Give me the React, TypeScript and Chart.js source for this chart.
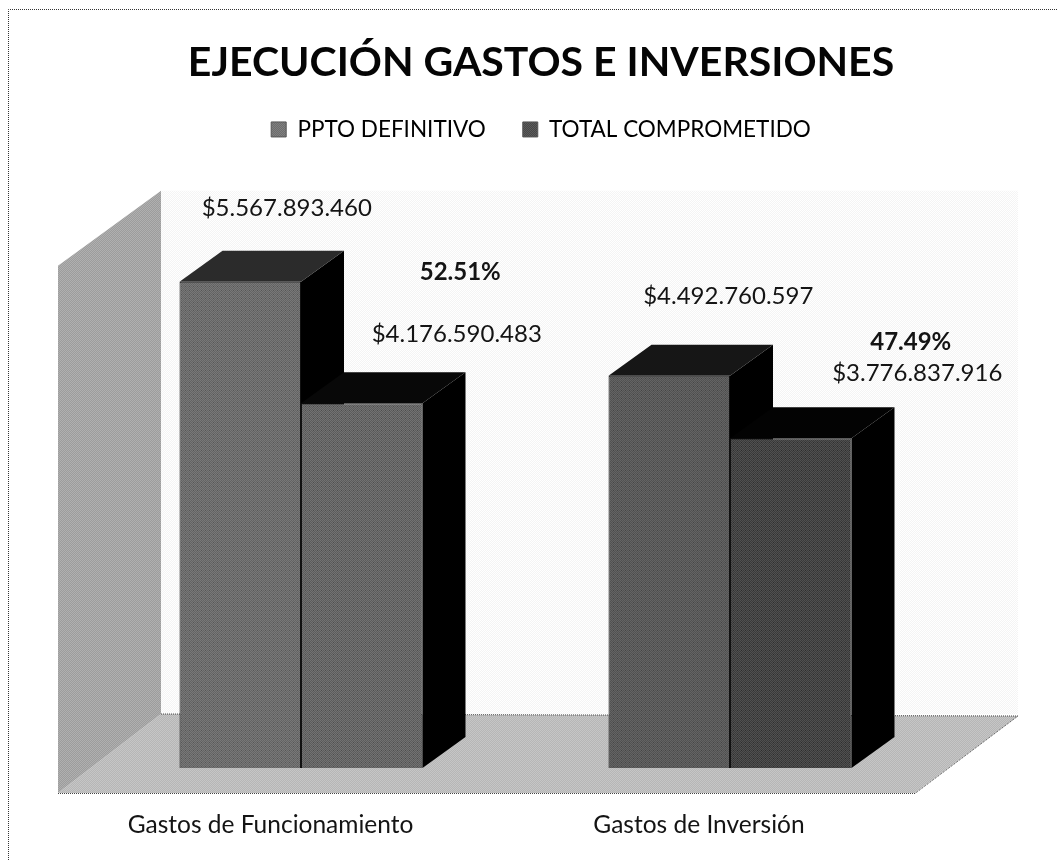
import React, { useEffect, useRef } from "react";
import { Chart, registerables } from "chart.js";

Chart.register(...registerables);

const titleText = "EJECUCIÓN GASTOS E INVERSIONES";
const categories = ["Gastos de Funcionamiento", "Gastos de Inversión"];
const seriesNames = ["PPTO DEFINITIVO", "TOTAL COMPROMETIDO"];
const pptoDefinitivo = [5567893460, 4492760597];
const totalComprometido = [4176590483, 3776837916];
const shareLabels = ["52.51%", "47.49%"];

const FONT = "Lato, 'Open Sans', sans-serif";
const INK = "#141414";
const DEPTH_X = 43;
const DEPTH_Y = 31;
const VALUE_MAX = 7.07e9;
const WALL_VALUE = 6.61e9;

const fmt = (v: number) => "$" + String(v).replace(/\B(?=(\d{3})+(?!\d))/g, ".");

function dither(a: string, b: string, spot?: string) {
  const c = document.createElement("canvas");
  c.width = 4;
  c.height = 4;
  const g = c.getContext("2d")!;
  for (let y = 0; y < 4; y++) {
    for (let x = 0; x < 4; x++) {
      g.fillStyle = (x + y) % 2 === 0 ? a : b;
      g.fillRect(x, y, 1, 1);
    }
  }
  if (spot) {
    g.fillStyle = spot;
    g.fillRect(1, 2, 1, 1);
  }
  return g.createPattern(c, "repeat")!;
}

function poly(ctx: CanvasRenderingContext2D, pts: number[][], fill: any) {
  ctx.beginPath();
  pts.forEach((p, i) => (i ? ctx.lineTo(p[0], p[1]) : ctx.moveTo(p[0], p[1])));
  ctx.closePath();
  ctx.fillStyle = fill;
  ctx.fill();
}

const scene = {
  id: "scene",
  beforeDatasetsDraw(chart: any) {
    const { ctx, scales } = chart;
    const x0 = scales.x.left;
    const base = scales.y.getPixelForValue(0);
    const top = scales.y.getPixelForValue(WALL_VALUE);
    const wl = x0 + 74.5;
    const wr = x0 + 931.5;
    const backY = base - 54;
    const frontY = base + 25;
    const fl = x0 - 28.5;
    const fr = x0 + 828.5;
    ctx.save();
    // page frame
    ctx.strokeStyle = "#333333";
    ctx.lineWidth = 1;
    ctx.setLineDash([1, 1]);
    ctx.beginPath();
    ctx.moveTo(8.5, 860);
    ctx.lineTo(8.5, 9.5);
    ctx.lineTo(1058, 9.5);
    ctx.stroke();
    ctx.setLineDash([]);
    // back wall, floor, left wall
    poly(ctx, [[wl, top], [wr, top], [wr, backY], [wl, backY]], dither("#ffffff", "#f4f4f4"));
    poly(ctx, [[fl, frontY], [wl, backY], [wr, backY + 2], [fr, frontY]], dither("#c6c6c6", "#b6b6b6"));
    poly(ctx, [[fl, top + 75], [wl, top], [wl, backY], [fl, frontY]], dither("#b0b0b0", "#9c9c9c"));
    ctx.strokeStyle = "#444444";
    ctx.setLineDash([1, 1]);
    ctx.beginPath();
    ctx.moveTo(fl, frontY + 0.5);
    ctx.lineTo(fr, frontY + 0.5);
    ctx.lineTo(wr, backY + 2);
    ctx.moveTo(wl, backY);
    ctx.lineTo(wr, backY + 2);
    ctx.stroke();
    ctx.setLineDash([]);
    // depth faces of every bar
    const topFaces = [["#2b2b2b", "#161616"], ["#080808", "#030303"]];
    chart.data.datasets.forEach((_: any, d: number) => {
      chart.getDatasetMeta(d).data.forEach((bar: any, i: number) => {
        const l = bar.x - bar.width / 2;
        const r = bar.x + bar.width / 2;
        poly(ctx, [[r, bar.y], [r + DEPTH_X, bar.y - DEPTH_Y], [r + DEPTH_X, bar.base - DEPTH_Y], [r, bar.base]], "#000000");
        poly(ctx, [[l, bar.y], [l + DEPTH_X, bar.y - DEPTH_Y], [r + DEPTH_X, bar.y - DEPTH_Y], [r, bar.y]], topFaces[d][i]);
      });
    });
    ctx.restore();
  },
  afterDatasetsDraw(chart: any) {
    const { ctx, scales } = chart;
    const valueOffsets = [
      [[46.5, -74], [59, -79]],
      [[95, -69], [126.5, -65]],
    ];
    const shareOffsets = [[98.5, -131], [120, -96]];
    const catOffsets = [-30.5, -31];
    ctx.save();
    ctx.textAlign = "center";
    ctx.textBaseline = "middle";
    ctx.fillStyle = INK;
    ctx.font = `24px ${FONT}`;
    chart.data.datasets.forEach((ds: any, d: number) => {
      chart.getDatasetMeta(d).data.forEach((bar: any, i: number) => {
        const [ox, oy] = valueOffsets[d][i];
        ctx.fillText(fmt(ds.data[i]), bar.x + ox, bar.y + oy);
      });
    });
    ctx.font = `bold 24px ${FONT}`;
    chart.getDatasetMeta(1).data.forEach((bar: any, i: number) => {
      ctx.fillText(shareLabels[i], bar.x + shareOffsets[i][0], bar.y + shareOffsets[i][1]);
    });
    ctx.font = `24.5px ${FONT}`;
    categories.forEach((c, i) => {
      ctx.fillText(c, scales.x.getPixelForTick(i) + catOffsets[i], scales.y.getPixelForValue(0) + 57);
    });
    ctx.restore();
  },
};

export default function App() {
  const ref = useRef<HTMLCanvasElement>(null);
  useEffect(() => {
    const legendFills = [dither("#808080", "#6c6c6c"), dither("#5c5c5c", "#464646")];
    const chart = new Chart(ref.current!, {
      type: "bar",
      data: {
        labels: categories,
        datasets: [
          {
            label: seriesNames[0],
            data: pptoDefinitivo,
            backgroundColor: [dither("#787878", "#646464", "#555555"), dither("#646464", "#525252", "#444444")],
          },
          {
            label: seriesNames[1],
            data: totalComprometido,
            backgroundColor: [dither("#727272", "#5c5c5c", "#4c4c4c"), dither("#505050", "#3a3a3a", "#2c2c2c")],
          },
        ],
      },
      options: {
        responsive: false,
        animation: false,
        layout: { padding: { left: 24, right: 0, top: 0, bottom: 0 } },
        datasets: {
          bar: {
            barPercentage: 1,
            categoryPercentage: 0.5664,
            borderWidth: 1,
            borderColor: "#111111",
          },
        },
        plugins: {
          tooltip: { enabled: false },
          title: {
            display: true,
            text: titleText,
            color: "#050505",
            font: { family: FONT, size: 41, weight: "bold" },
            padding: { top: 38, bottom: -6 },
          },
          legend: {
            position: "top",
            labels: {
              color: INK,
              font: { family: FONT, size: 22.5 },
              boxWidth: 15,
              boxHeight: 15,
              padding: 37,
              generateLabels: (c: any) =>
                c.data.datasets.map((ds: any, i: number) => ({
                  text: ds.label,
                  fillStyle: legendFills[i],
                  strokeStyle: "#555555",
                  lineWidth: 1,
                  datasetIndex: i,
                })),
            },
          },
        },
        scales: {
          x: {
            grid: { display: false },
            border: { display: false },
            ticks: { display: false },
            afterFit: (s: any) => {
              s.height = 92;
            },
          },
          y: {
            min: 0,
            max: VALUE_MAX,
            grid: { display: false },
            border: { display: false },
            ticks: { display: false },
            afterFit: (s: any) => {
              s.width = 62.5;
            },
          },
          yRight: {
            position: "right",
            min: 0,
            max: VALUE_MAX,
            grid: { display: false },
            border: { display: false },
            ticks: { display: false },
            afterFit: (s: any) => {
              s.width = 113.5;
            },
          },
        },
      },
      plugins: [scene],
    } as any);
    return () => chart.destroy();
  }, []);
  return (
    <div style={{ position: "absolute", left: 0, top: 0, width: 1058, height: 860, background: "#fff" }}>
      <canvas ref={ref} width={1058} height={860} style={{ display: "block" }} />
    </div>
  );
}
